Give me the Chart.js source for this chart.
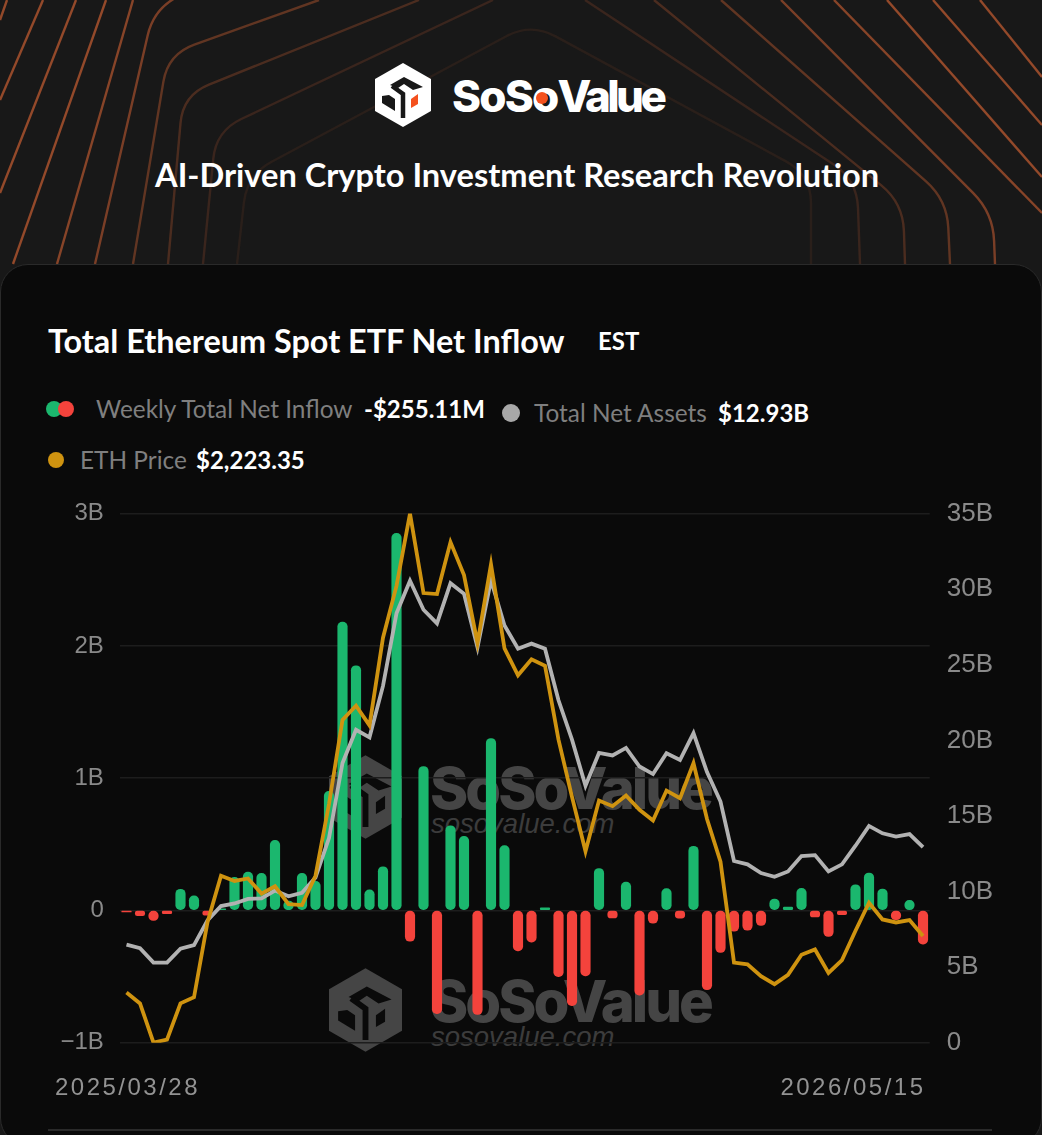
<!DOCTYPE html>
<html>
<head>
<meta charset="utf-8">
<title>Total Ethereum Spot ETF Net Inflow</title>
<script src="https://cdn.jsdelivr.net/npm/chart.js@4/dist/chart.umd.min.js"></script>
<style>
  html, body { margin: 0; padding: 0; background: #181818; }
  #page { position: relative; width: 1042px; height: 1135px; overflow: hidden; font-family: Lato, sans-serif; color: #fff; }
  #bg { position: absolute; left: 0; top: 0; }
  .t { position: absolute; white-space: nowrap; line-height: 1; }
  #card { position: absolute; left: 0; top: 264px; width: 1040px; height: 880px; background: #0a0a0a; border: 1.5px solid #2a2a2a; border-radius: 28px; box-sizing: content-box; }
  #brand { left: 452px; top: 69px; font: 800 44px Inter, sans-serif; letter-spacing: -3.6px; }
  #brand span { letter-spacing: -1.8px; }
  #slogan { left: 155px; top: 159px; font-size: 32.6px; font-weight: 700; }
  #title { left: 48px; top: 325px; font-size: 32.4px; font-weight: 700; }
  #est { left: 598px; top: 329px; font-size: 24px; font-weight: 700; }
  .lab { font-size: 24.4px; color: #7f7f7f; }
  .val { font-size: 24px; font-weight: 700; }
  .dot { position: absolute; border-radius: 50%; }
  .wm1 { left: 430px; font: 800 58px Inter, sans-serif; letter-spacing: -3px; color: #454545; }
  .wm2 { left: 431px; font: 400 27.5px "Liberation Sans", sans-serif; color: #3c3c3c; font-style: italic; }
  #chart { position: absolute; left: 0; top: 481px; }
  #rule { position: absolute; left: 48px; top: 1129px; width: 944px; height: 2px; background: #2a2a2a; }
</style>
</head>
<body>
<div id="page">
  <svg id="bg" width="1042" height="270"></svg>
  <svg width="0" height="0" style="position:absolute">
    <symbol id="cube" viewBox="0 0 56 64">
      <polygon points="28,0 56,16 56,48 28,64 0,48 0,16" fill="currentColor"/>
      <polygon points="15,22 29,14 48,24 38,27 29,21 23,25" fill="var(--cut)"/>
      <path d="M17 23 L28 31 L28 55" fill="none" stroke="var(--cut)" stroke-width="4.5"/>
      <polygon points="7,33 7,40 20,48 20,36 14,32" fill="var(--cut)"/>
      <polygon points="36,36 43,31 43,41 36,45" fill="var(--mark)"/>
    </symbol>
  </svg>
  <div id="card"></div>

  <svg class="t" style="left:375px;top:63px;color:#fff;--cut:#181818;--mark:#f4511e" width="56" height="64"><use href="#cube"/></svg>
  <div class="t" id="brand"><span>SoSo</span>Value</div>
  <div class="dot" style="left:535.5px;top:91.5px;width:12px;height:12px;background:#f4511e"></div>
  <div class="t" id="slogan">AI-Driven Crypto Investment Research Revolution</div>

  <div class="t" id="title">Total Ethereum Spot ETF Net Inflow</div>
  <div class="t" id="est">EST</div>

  <div class="dot" style="left:46px;top:401px;width:16px;height:16px;background:#1bb76e"></div>
  <div class="dot" style="left:58px;top:401px;width:16px;height:16px;background:#f4433c"></div>
  <div class="t lab" style="left:96px;top:397px">Weekly Total Net Inflow</div>
  <div class="t val" style="left:364px;top:397px">-$255.11M</div>

  <div class="dot" style="left:502px;top:404px;width:18px;height:18px;background:#a8a8a8"></div>
  <div class="t lab" style="left:534px;top:401px">Total Net Assets</div>
  <div class="t val" style="left:718px;top:401px">$12.93B</div>

  <div class="dot" style="left:48px;top:452px;width:16px;height:16px;background:#cf9310"></div>
  <div class="t lab" style="left:80px;top:448px">ETH Price</div>
  <div class="t val" style="left:196px;top:448px">$2,223.35</div>

  <svg class="t" style="left:329px;top:755px;color:#454545;--cut:#0a0a0a;--mark:#0a0a0a" width="73" height="84"><use href="#cube"/></svg>
  <div class="t wm1" style="top:753px">SoSoValue</div>
  <div class="t wm2" style="top:808px">sosovalue.com</div>
  <svg class="t" style="left:329px;top:968px;color:#454545;--cut:#0a0a0a;--mark:#0a0a0a" width="73" height="84"><use href="#cube"/></svg>
  <div class="t wm1" style="top:966px">SoSoValue</div>
  <div class="t wm2" style="top:1021px">sosovalue.com</div>

  <canvas id="chart" width="1042" height="629" style="width:1042px;height:629px"></canvas>
  <div id="rule"></div>
</div>

<script>
const weeks = [
  '2025/03/28','2025/04/04','2025/04/11','2025/04/18','2025/04/25','2025/05/02','2025/05/09','2025/05/16','2025/05/23','2025/05/30',
  '2025/06/06','2025/06/13','2025/06/20','2025/06/27','2025/07/04','2025/07/11','2025/07/18','2025/07/25','2025/08/01','2025/08/08',
  '2025/08/15','2025/08/22','2025/08/29','2025/09/05','2025/09/12','2025/09/19','2025/09/26','2025/10/03','2025/10/10','2025/10/17',
  '2025/10/24','2025/10/31','2025/11/07','2025/11/14','2025/11/21','2025/11/28','2025/12/05','2025/12/12','2025/12/19','2025/12/26',
  '2026/01/02','2026/01/09','2026/01/16','2026/01/23','2026/01/30','2026/02/06','2026/02/13','2026/02/20','2026/02/27','2026/03/06',
  '2026/03/13','2026/03/20','2026/03/27','2026/04/03','2026/04/10','2026/04/17','2026/04/24','2026/05/01','2026/05/08','2026/05/15'
];

// weekly net inflow, $B
const netInflow = [
  -0.012, -0.04, -0.076, -0.025, 0.16, 0.11, -0.035, 0.012, 0.25, 0.29,
  0.28, 0.53, 0.07, 0.28, 0.22, 0.9, 2.18, 1.85, 0.155, 0.33,
  2.85, -0.233, 1.088, -0.78, 0.64, 0.56, -0.787, 1.3, 0.49, -0.306,
  -0.24, 0.02, -0.5, -0.72, -0.495, 0.317, -0.057, 0.214, -0.64, -0.097,
  0.165, -0.058, 0.485, -0.6, -0.318, -0.157, -0.15, -0.114, 0.086, 0.025,
  0.167, -0.05, -0.197, -0.033, 0.194, 0.283, 0.162, -0.07, 0.076, -0.255
];

// total net assets, $B
const netAssets = [
  6.49, 6.25, 5.3, 5.3, 6.22, 6.46, 8.09, 9.04, 9.21, 9.51,
  9.54, 10.06, 9.68, 9.92, 10.93, 13.54, 18.5, 20.7, 20.2, 23.6,
  28.4, 30.56, 28.64, 27.74, 30.4, 29.7, 26.15, 30.6, 27.6, 26.06,
  26.4, 26.06, 22.65, 20.05, 17.0, 19.17, 19.0, 19.5, 18.27, 17.77,
  19.15, 18.7, 20.48, 17.9, 15.95, 12.02, 11.8, 11.22, 10.98, 11.33,
  12.35, 12.41, 11.33, 11.8, 13.03, 14.34, 13.85, 13.63, 13.8, 12.93
];

// ETH close, $
const ethPrice = [
  1882, 1817, 1580, 1599, 1817, 1854, 2307, 2587, 2555, 2570,
  2479, 2523, 2415, 2410, 2587, 3019, 3526, 3612, 3493, 4022,
  4334, 4770, 4291, 4285, 4598, 4399, 3989, 4464, 3957, 3795,
  3892, 3853, 3407, 3062, 2734, 3040, 3006, 3070, 2984, 2920,
  3100, 3054, 3265, 2929, 2671, 2063, 2053, 1981, 1933, 1989,
  2110, 2142, 2001, 2078, 2255, 2424, 2323, 2305, 2319, 2223
];

const leftTicks = { '-1': '\u22121B', '0': '0', '1': '1B', '2': '2B', '3': '3B' };
const rightTicks = { 0: '0', 5: '5B', 10: '10B', 15: '15B', 20: '20B', 25: '25B', 30: '30B', 35: '35B' };
const xLabels = ['2025/03/28', '2026/05/15'];

const GREEN = '#1bb76e', RED = '#f4433c', GREY = '#b2b2b2', GOLD = '#cf9310';

// header line pattern, only decoration
const bgLines = [
  { o: .15, p: [[237,264],[247,175],[531,23],[811,175],[811,264]] },
  { o: .28, p: [[203,264],[216,131],[493,0]] },
  { o: .28, p: [[585,0],[857,180],[860,264]] },
  { o: .42, p: [[168,264],[183,95],[419,0]] },
  { o: .42, p: [[654,0],[903,203],[905,264]] },
  { o: .6, p: [[133,264],[168,54],[319,0]] },
  { o: .6, p: [[721,0],[947,200],[950,264]] },
  { o: .8, p: [[95,264],[154,8],[179,-4]] },
  { o: .8, p: [[781,0],[993,213],[995,264]] },
  { o: .9, p: [[57,264],[133,0]] },
  { o: .9, p: [[834,0],[1042,213]] },
  { o: 1, p: [[13,264],[106,0]] },
  { o: 1, p: [[887,0],[1042,177]] },
  { o: 1, p: [[0,193],[76,0]] },
  { o: 1, p: [[933,0],[1042,125]] },
  { o: 1, p: [[0,100],[43,0]] },
  { o: 1, p: [[980,0],[1042,77]] },
  { o: 1, p: [[0,20],[7,0]] }
];

function roundedPath(pts, r) {
  let d = `M${pts[0][0]} ${pts[0][1]}`;
  for (let i = 1; i < pts.length - 1; i++) {
    const [x, y] = pts[i];
    const cut = (a) => {
      const len = Math.hypot(a[0] - x, a[1] - y);
      return [x + (a[0] - x) * r / len, y + (a[1] - y) * r / len];
    };
    const a = cut(pts[i - 1]), b = cut(pts[i + 1]);
    d += ` L${a[0]} ${a[1]} Q${x} ${y} ${b[0]} ${b[1]}`;
  }
  const last = pts[pts.length - 1];
  return d + ` L${last[0]} ${last[1]}`;
}

document.getElementById('bg').innerHTML = bgLines.map(l =>
  `<path d="${roundedPath(l.p, 28)}" fill="none" stroke="#93492a" stroke-width="2.4" stroke-opacity="${l.o}"/>`
).join('');

// first date sits centred on its point, last one ends on its point
const dateLabels = {
  id: 'dateLabels',
  afterDraw(chart) {
    const { ctx, scales, chartArea } = chart;
    ctx.save();
    ctx.font = '24px "Liberation Sans", sans-serif';
    ctx.letterSpacing = '2.5px';
    ctx.fillStyle = '#939393';
    ctx.textBaseline = 'alphabetic';
    ctx.textAlign = 'center';
    ctx.fillText(xLabels[0], scales.x.getPixelForValue(0) + 1, chartArea.bottom + 52);
    ctx.textAlign = 'right';
    ctx.fillText(xLabels[1], scales.x.getPixelForValue(weeks.length - 1) + 2.5, chartArea.bottom + 52);
    ctx.restore();
  }
};

new Chart(document.getElementById('chart'), {
  data: {
    labels: weeks,
    datasets: [
      {
        type: 'line', label: 'ETH Price', data: ethPrice, yAxisID: 'yEth', order: 1,
        borderColor: GOLD, borderWidth: 3.8, pointRadius: 0, tension: 0, borderJoinStyle: 'miter'
      },
      {
        type: 'line', label: 'Total Net Assets', data: netAssets, yAxisID: 'yAssets', order: 2,
        borderColor: GREY, borderWidth: 3.8, pointRadius: 0, tension: 0, borderJoinStyle: 'miter'
      },
      {
        type: 'bar', label: 'Weekly Total Net Inflow', data: netInflow, yAxisID: 'yFlow', order: 3,
        backgroundColor: netInflow.map(v => v >= 0 ? GREEN : RED),
        barThickness: 9.5, borderRadius: 5, borderSkipped: false
      }
    ]
  },
  plugins: [dateLabels],
  options: {
    responsive: false,
    animation: false,
    layout: { padding: { top: 0, bottom: 59.3, left: 0, right: 0 } },
    plugins: { legend: { display: false }, tooltip: { enabled: false } },
    scales: {
      x: {
        offset: true,
        grid: { display: false },
        border: { display: false },
        ticks: { display: false }
      },
      yFlow: {
        position: 'left', min: -1, max: 3,
        afterFit(scale) { scale.width = 119.75; },
        grid: { color: '#1d1d1d', lineWidth: 1.5, drawTicks: false },
        border: { display: false },
        ticks: {
          stepSize: 1, padding: 16, color: '#8a8a8a',
          font: { family: '"Liberation Sans", sans-serif', size: 24 },
          callback: v => leftTicks[v]
        }
      },
      yAssets: {
        position: 'right', min: 0, max: 35,
        afterFit(scale) { scale.width = 112.25; },
        grid: { display: false, drawTicks: false },
        border: { display: false },
        ticks: {
          stepSize: 5, padding: 17, color: '#8a8a8a',
          font: { family: '"Liberation Sans", sans-serif', size: 26 },
          callback: v => rightTicks[v]
        }
      },
      yEth: { display: false, min: 1580, max: 4770 }
    }
  }
});
</script>
</body>
</html>
